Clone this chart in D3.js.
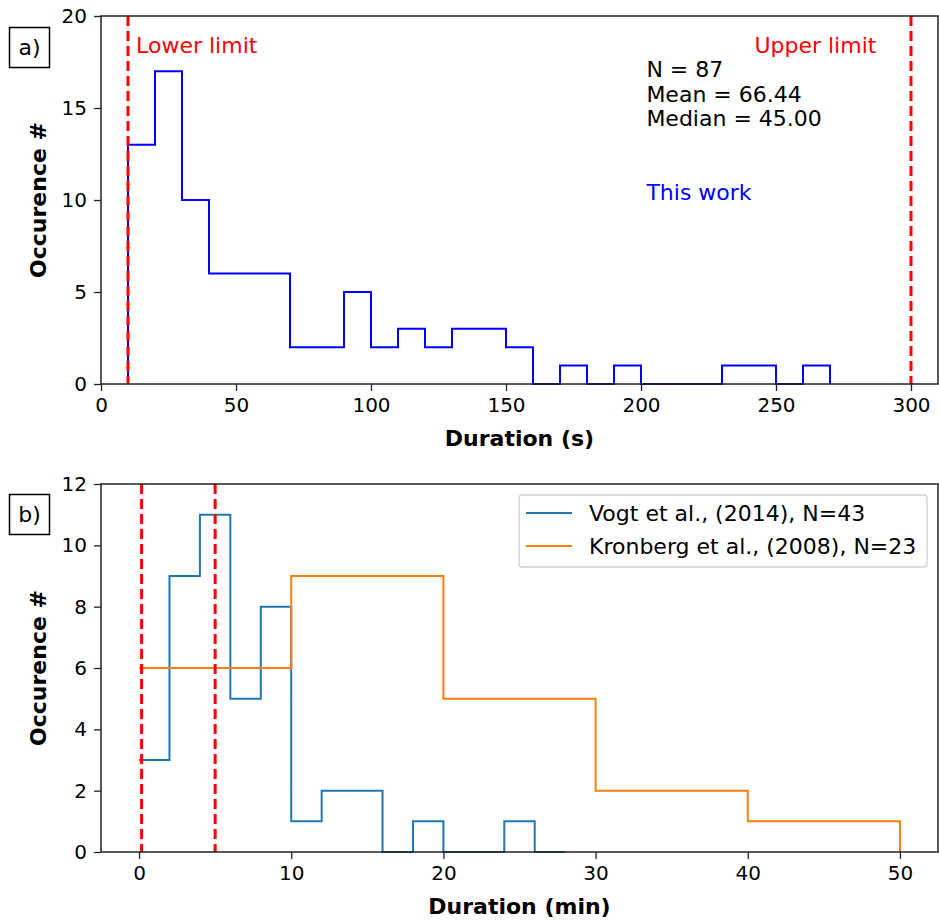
<!DOCTYPE html>
<html><head><meta charset="utf-8">
<script src="https://cdn.jsdelivr.net/npm/d3@7"></script>
<style>body{margin:0;background:#fff}svg{font-family:"DejaVu Sans",sans-serif}</style>
</head><body><svg id="c" width="939" height="921"></svg>
<script>
// Panel a: this work (seconds), bins of 10 s
const binEdgesA = [10,20,30,40,50,60,70,80,90,100,110,120,130,140,150,160,170,180,190,200,210,220,230,240,250,260,270];
const countsA = [13,17,10,6,6,6,2,2,5,2,3,2,3,3,2,0,1,0,1,0,0,0,1,1,0,1];
const limitsA = [10,300];
const xTicksA = [0,50,100,150,200,250,300];
const yTicksA = [0,5,10,15,20];
const statsText = ["N = 87","Mean = 66.44","Median = 45.00"];

// Panel b: literature (minutes)
const vogtEdges = [0,2,4,6,8,10,12,14,16,18,20,22,24,26,28];
const vogtCounts = [3,9,11,5,8,1,2,2,0,1,0,0,1,0,0];
const kronEdges = [0,10,20,30,40,50];
const kronCounts = [6,9,5,2,1,0];
const limitsB = [10/60, 300/60];
const xTicksB = [0,10,20,30,40,50];
const yTicksB = [0,2,4,6,8,10,12];
const legendLabels = ["Vogt et al., (2014), N=43","Kronberg et al., (2008), N=23"];

const svg = d3.select("#c");
const FS = 22, FT = 20;
const L = 101, R = 938;

function axes(g, x, y, xt, yt, top, bottom, xlabel) {
  g.append("g").attr("transform",`translate(0,${bottom})`)
    .call(d3.axisBottom(x).tickValues(xt).tickSize(7).tickPadding(7).tickFormat(d3.format("d")))
    .call(a=>{a.select(".domain").remove(); a.selectAll("text").attr("font-size",FT).attr("font-family","DejaVu Sans").attr("fill","#000"); a.selectAll("line").attr("stroke","#222").attr("stroke-width",1.3);});
  g.append("g").attr("transform",`translate(${L},0)`)
    .call(d3.axisLeft(y).tickValues(yt).tickSize(7).tickPadding(7).tickFormat(d3.format("d")))
    .call(a=>{a.select(".domain").remove(); a.selectAll("text").attr("font-size",FT).attr("font-family","DejaVu Sans").attr("fill","#000"); a.selectAll("line").attr("stroke","#222").attr("stroke-width",1.3);});
  g.append("text").attr("x",(L+R)/2).attr("y",bottom+62).attr("text-anchor","middle")
    .attr("font-size",FS).attr("font-weight","bold").text(xlabel);
  g.append("text").attr("transform",`translate(46,${(top+bottom)/2}) rotate(-90)`).attr("text-anchor","middle")
    .attr("font-size",FS).attr("font-weight","bold").text("Occurence #");
}
function frame(g, top, bottom){
  g.append("rect").attr("x",L).attr("y",top).attr("width",R-L).attr("height",bottom-top)
    .attr("fill","none").attr("stroke","#222").attr("stroke-width",1.5);
}
function panelLabel(g, txt, y0){
  g.append("rect").attr("x",9.5).attr("y",y0+0.5).attr("width",40).attr("height",40).attr("fill","#fff").attr("stroke","#000").attr("stroke-width",1.5);
  g.append("text").attr("x",29.5).attr("y",y0+28).attr("text-anchor","middle").attr("font-size",FS).text(txt);
}

// ---------- Panel a ----------
{
  const top=16,bottom=384;
  const x = d3.scaleLinear().domain([0,310]).range([L,R]);
  const y = d3.scaleLinear().domain([0,20]).range([bottom,top]);
  const g = svg.append("g");
  const pts=[[binEdgesA[0],0]];
  countsA.forEach((c,i)=>{pts.push([binEdgesA[i],c]);pts.push([binEdgesA[i+1],c]);});
  pts.push([binEdgesA[binEdgesA.length-1],0]);
  g.append("path").attr("d",d3.line().x(d=>x(d[0])).y(d=>y(d[1]))(pts))
    .attr("fill","none").attr("stroke","#0000ff").attr("stroke-width",2);
  limitsA.forEach(v=>g.append("line").attr("x1",x(v)).attr("x2",x(v)).attr("y1",top).attr("y2",bottom)
    .attr("stroke","#ff0000").attr("stroke-width",3).attr("stroke-dasharray","10,5"));
  g.append("text").attr("x",x(13)).attr("y",y(18)).attr("font-size",FS).attr("fill","#ff0000").text("Lower limit");
  g.append("text").attr("x",x(242)).attr("y",y(18)).attr("font-size",FS).attr("fill","#ff0000").text("Upper limit");
  statsText.forEach((t,i)=>g.append("text").attr("x",x(202)).attr("y",77+i*24.5).attr("font-size",FS).attr("fill","#000").text(t));
  g.append("text").attr("x",x(202)).attr("y",200).attr("font-size",FS).attr("fill","#0000ff").text("This work");
  frame(g,top,bottom);
  axes(g,x,y,xTicksA,yTicksA,top,bottom,"Duration (s)");
  panelLabel(g,"a)",27);
}

// ---------- Panel b ----------
{
  const top=484,bottom=852;
  const x = d3.scaleLinear().domain([-2.5,52.5]).range([L,R]);
  const y = d3.scaleLinear().domain([0,12]).range([bottom,top]);
  const g = svg.append("g");
  const stepLine = d3.line().curve(d3.curveStepAfter).x(d=>x(d[0])).y(d=>y(d[1]));
  g.append("path").attr("d",stepLine(vogtEdges.map((e,i)=>[e,vogtCounts[i]])))
    .attr("fill","none").attr("stroke","#1f77b4").attr("stroke-width",2);
  g.append("path").attr("d",stepLine(kronEdges.map((e,i)=>[e,kronCounts[i]])))
    .attr("fill","none").attr("stroke","#ff7f0e").attr("stroke-width",2);
  limitsB.forEach(v=>g.append("line").attr("x1",x(v)).attr("x2",x(v)).attr("y1",top).attr("y2",bottom)
    .attr("stroke","#ff0000").attr("stroke-width",3).attr("stroke-dasharray","10,5"));
  frame(g,top,bottom);
  axes(g,x,y,xTicksB,yTicksB,top,bottom,"Duration (min)");
  panelLabel(g,"b)",494);
  const lg = g.append("g");
  lg.append("rect").attr("x",519).attr("y",495).attr("width",408).attr("height",72).attr("rx",3)
    .attr("fill","#fff").attr("fill-opacity",0.8).attr("stroke","#d0d0d0").attr("stroke-width",1.3);
  const cols=["#1f77b4","#ff7f0e"];
  legendLabels.forEach((t,i)=>{
    const yy=513+i*33;
    lg.append("line").attr("x1",526).attr("x2",572).attr("y1",yy).attr("y2",yy).attr("stroke",cols[i]).attr("stroke-width",2);
    lg.append("text").attr("x",589).attr("y",yy+8).attr("font-size",FS).attr("fill","#000").text(t);
  });
}
</script></body></html>
